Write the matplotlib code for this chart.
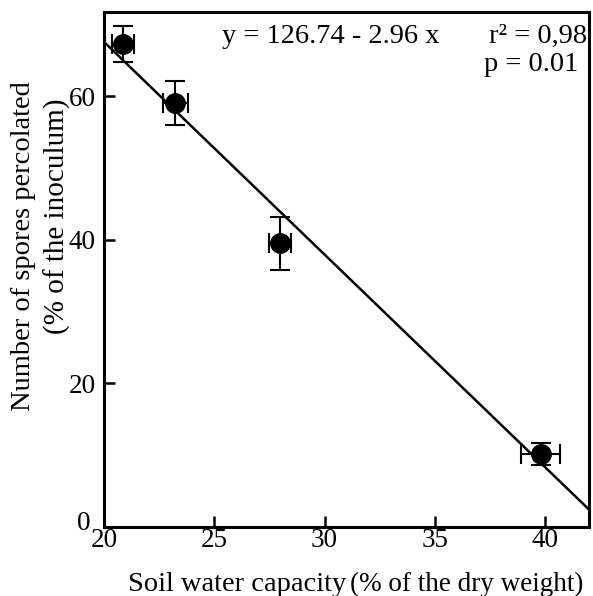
import numpy as np
import matplotlib.pyplot as plt
import matplotlib.transforms as mtransforms
from matplotlib import rcParams

rcParams['font.family'] = ['Liberation Serif', 'DejaVu Serif']

# 土壤持水量 vs 渗漏孢子数
water_capacity = [20.86, 23.23, 27.99, 39.8]
water_capacity_err = [0.52, 0.57, 0.5, 0.87]
spores_percolated = [67.3, 59.1, 39.5, 10.2]
spores_err = [2.5, 3.06, 3.66, 1.5]

# 回归参数
intercept = 126.74
slope = -2.96
x_ticks = [20, 25, 30, 35, 40]
y_ticks = [0, 20, 40, 60]


def main():
    fig = plt.figure(figsize=(5.93, 5.96), dpi=100)
    ax = fig.add_axes([0.1754, 0.1158, 0.818, 0.864])

    xs = np.array([20, 42])
    ax.plot(xs, intercept + slope * xs, color='black', lw=1.8, zorder=2)

    ax.errorbar(water_capacity, spores_percolated,
                xerr=water_capacity_err, yerr=spores_err,
                fmt='o', color='black', ms=14, elinewidth=1.5,
                capsize=7, capthick=1.5, zorder=3)

    ax.set_xlim(20, 42)
    ax.set_ylim(0, 71.7)
    ax.set_xticks(x_ticks)
    ax.set_yticks(y_ticks)
    ax.tick_params(direction='in', length=8, width=1.8, labelsize=19.5)
    ax.tick_params(axis='x', pad=1)
    ax.tick_params(axis='y', pad=6)
    for s in ax.spines.values():
        s.set_linewidth(2.2)

    # 原点的 "0" 稍微往左上挪，避免和 x 轴的 "20" 重叠
    fig.canvas.draw()
    zero_label = ax.get_yticklabels()[0]
    zero_label.set_transform(zero_label.get_transform() +
                             mtransforms.ScaledTranslation(-5 / 100, 6 / 100,
                                                           fig.dpi_scale_trans))

    # 坐标轴标题（主标题 + 较小的说明）
    fig.text(0.216, 0.008, 'Soil water capacity', fontsize=20.5, ha='left',
             va='baseline')
    fig.text(0.590, 0.008, '(% of the dry weight)', fontsize=19.5,
             ha='left', va='baseline')
    fig.text(0.039, 0.587, 'Number of spores percolated', fontsize=20.5,
             rotation=90, ha='center', va='center')
    fig.text(0.096, 0.638, '(% of the inoculum)', fontsize=21,
             rotation=90, ha='center', va='center')

    ax.text(0.243, 0.940, 'y = 126.74 - 2.96 x', transform=ax.transAxes,
            fontsize=20.5, ha='left', va='baseline')
    ax.text(0.996, 0.940, 'r² = 0,98', transform=ax.transAxes,
            fontsize=20.5, ha='right', va='baseline')
    ax.text(0.977, 0.885, 'p = 0.01', transform=ax.transAxes,
            fontsize=20.5, ha='right', va='baseline')

    plt.savefig('out.png', dpi=100)
    plt.close()


if __name__ == "__main__":
    main()
